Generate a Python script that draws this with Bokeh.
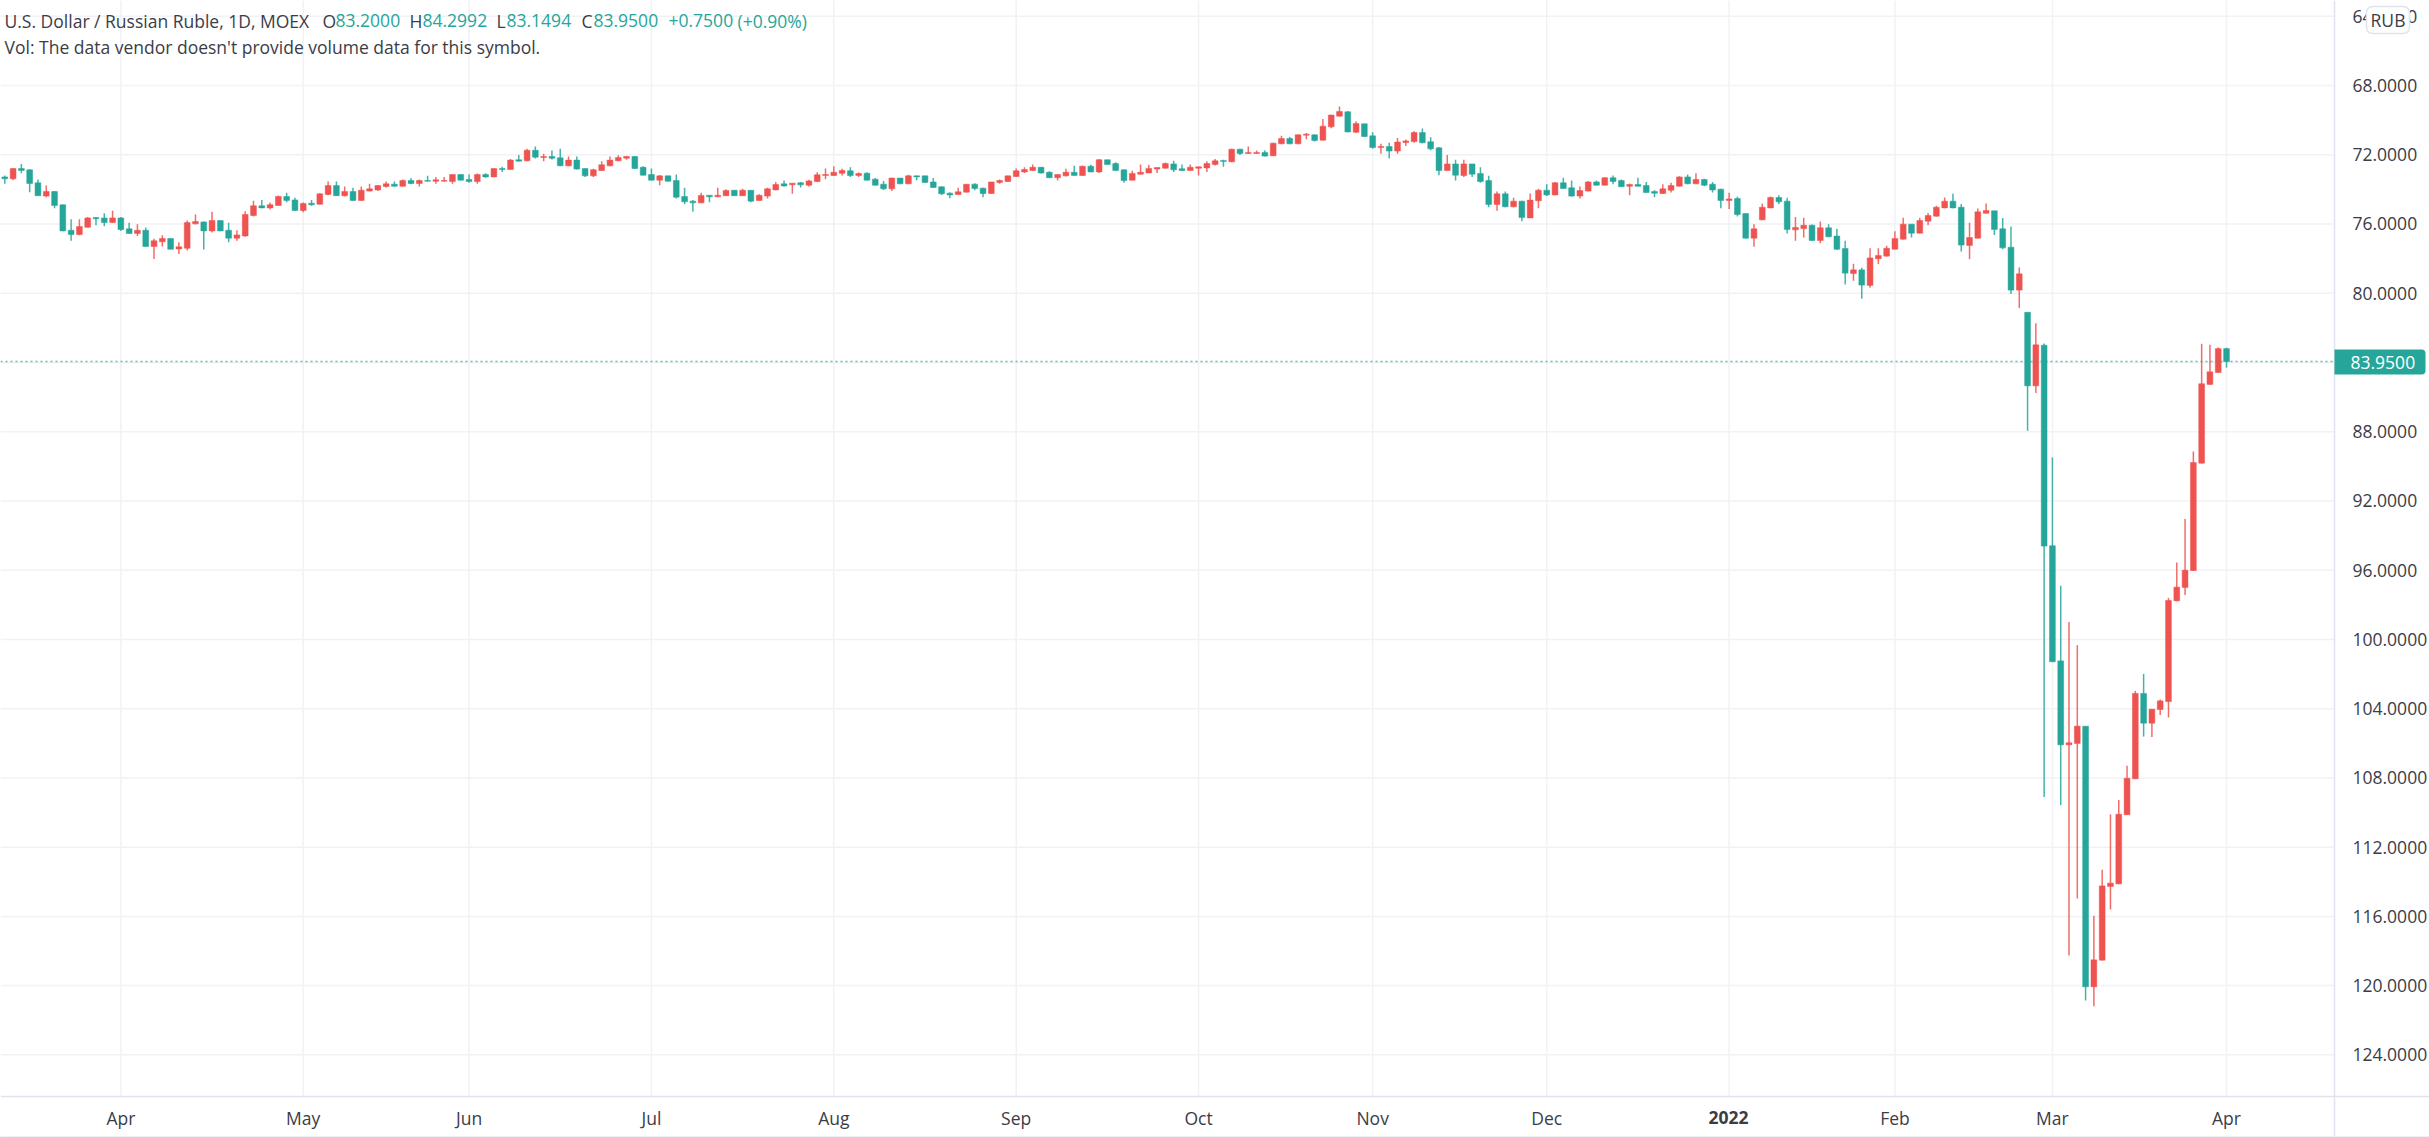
from bokeh.embed import file_html
from bokeh.models import BoxAnnotation, ColumnDataSource, FixedTicker, Label, NumeralTickFormatter, Range1d
from bokeh.plotting import figure
from bokeh.resources import INLINE

opens = [
 73.28,73.39,72.80,72.87,73.62,74.39,74.12,74.89,76.36,76.61,
 76.19,75.63,75.65,75.92,75.65,76.28,76.55,76.36,77.30,77.03,
 76.84,77.44,77.40,75.99,75.88,76.40,75.80,76.36,76.82,76.69,
 75.51,74.95,75.07,74.93,74.41,74.61,75.22,74.80,74.86,74.30,
 73.78,74.37,74.12,74.64,74.10,74.03,73.84,73.70,73.82,73.49,
 73.66,73.49,73.53,73.53,73.55,73.14,73.43,73.55,73.14,73.28,
 72.80,72.85,72.29,72.35,71.74,72.16,72.10,72.18,72.64,72.31,
 72.80,73.22,72.91,72.64,72.35,72.20,72.10,72.72,73.14,73.47,
 73.22,73.49,74.41,74.68,74.78,74.34,74.43,74.37,74.05,74.37,
 74.05,74.64,74.39,74.03,73.68,73.74,73.62,73.76,73.55,73.20,
 73.20,73.07,72.93,73.20,73.07,73.41,73.70,73.97,73.35,73.68,
 73.22,73.22,73.57,73.85,74.22,74.30,74.16,73.70,73.93,74.24,
 73.60,73.55,73.26,72.99,72.91,72.72,73.01,73.33,73.22,73.01,
 73.20,72.66,72.99,72.29,72.51,72.87,73.47,73.12,73.05,72.83,
 72.78,72.53,72.81,72.91,72.78,72.76,72.56,72.33,72.41,71.68,
 71.93,71.93,71.87,72.06,71.37,71.06,71.37,70.87,70.85,71.16,
 70.39,69.77,69.52,70.70,70.21,70.91,71.58,71.52,71.79,71.29,
 71.24,70.72,71.25,71.60,72.91,72.53,73.20,72.53,73.08,73.49,
 74.87,74.26,75.01,74.68,75.65,74.66,74.05,74.32,73.62,73.91,
 74.39,74.10,73.57,73.76,73.33,73.49,73.82,73.72,73.78,74.12,
 74.24,74.05,73.82,73.28,73.68,73.43,73.70,73.99,74.64,74.53,
 75.40,76.82,75.76,75.07,74.47,74.68,76.34,76.26,76.07,76.95,
 76.22,76.70,77.42,78.86,78.65,79.55,78.01,77.86,77.46,76.88,
 76.01,76.53,75.84,75.55,75.07,74.68,75.03,77.24,76.82,75.38,
 75.24,76.28,77.34,79.82,81.10,85.35,83.00,94.59,101.24,106.09,
 106.01,105.01,120.07,118.53,114.27,114.12,110.13,108.05,103.12,104.84,
 104.05,103.59,97.77,97.00,96.02,89.82,85.27,84.58,83.20,
]
closes = [
 73.39,72.80,72.91,73.66,74.37,74.12,74.93,76.40,76.61,76.15,
 75.65,75.70,75.92,75.65,76.32,76.55,76.36,77.30,76.97,76.84,
 77.46,77.32,75.92,75.86,76.40,75.80,76.40,76.82,76.63,75.45,
 74.95,75.07,74.89,74.41,74.64,75.22,74.82,74.89,74.26,73.78,
 74.37,74.12,74.64,74.05,73.97,73.78,73.68,73.82,73.49,73.66,
 73.49,73.53,73.45,73.49,73.14,73.47,73.55,73.14,73.28,72.80,
 72.85,72.31,72.37,71.74,72.14,72.10,72.20,72.64,72.31,72.83,
 73.22,72.87,72.58,72.31,72.16,72.10,72.80,73.18,73.47,73.22,
 73.53,74.45,74.72,74.78,74.35,74.43,74.34,74.07,74.37,74.05,
 74.68,74.34,73.97,73.72,73.80,73.64,73.74,73.51,73.16,73.14,
 73.01,72.91,73.20,73.08,73.47,73.76,73.97,73.35,73.68,73.22,
 73.28,73.60,73.89,74.26,74.32,74.14,73.70,73.95,74.24,73.57,
 73.49,73.22,72.93,72.85,72.72,73.06,73.33,73.14,73.01,73.20,
 72.66,72.99,72.29,72.56,72.91,73.49,73.08,73.01,72.79,72.74,
 72.51,72.87,72.91,72.72,72.70,72.51,72.35,72.39,71.68,71.93,
 71.87,71.87,72.08,71.33,71.06,71.37,70.85,70.81,71.18,70.35,
 69.71,69.50,70.68,70.20,70.95,71.58,71.52,71.79,71.27,71.20,
 70.72,71.31,71.66,72.91,72.53,73.18,72.53,73.12,73.55,74.87,
 74.26,75.01,74.68,75.63,74.62,74.05,74.32,73.62,73.95,74.39,
 74.07,73.57,73.76,73.33,73.55,73.85,73.72,73.82,74.18,74.22,
 73.97,73.78,73.28,73.68,73.43,73.76,74.03,74.64,74.55,75.45,
 76.82,76.28,75.03,74.47,74.72,76.32,76.20,76.07,76.95,76.22,
 76.74,77.46,78.84,78.65,79.53,77.96,77.82,77.40,76.84,76.01,
 76.53,75.80,75.51,75.03,74.68,75.07,77.22,76.78,75.30,75.22,
 76.32,77.38,79.82,78.88,85.35,82.98,94.61,101.29,106.09,105.97,
 105.01,120.07,118.51,114.24,114.08,110.10,108.02,103.12,104.84,104.03,
 103.55,97.75,96.98,96.00,89.78,85.23,84.54,83.20,83.95,
]
highs = [
 73.68,73.47,73.07,74.16,74.39,74.45,75.09,76.42,76.97,76.65,
 76.20,76.07,76.13,75.93,76.40,76.57,76.70,77.32,78.03,77.30,
 77.48,77.74,77.53,76.03,77.48,76.49,76.42,77.05,76.97,76.74,
 75.57,75.09,75.16,74.95,74.74,75.24,75.32,74.95,74.87,74.34,
 74.39,74.41,74.66,74.66,74.12,74.10,73.89,73.84,73.84,73.70,
 73.84,73.55,73.68,73.55,73.68,73.49,73.62,73.68,73.33,73.30,
 72.99,72.87,72.39,72.37,72.22,72.37,72.28,72.66,72.66,72.85,
 73.28,73.28,72.93,72.66,72.37,72.29,72.83,73.20,73.49,73.76,
 73.55,74.53,74.86,75.30,74.80,74.74,74.45,74.39,74.39,74.39,
 74.74,74.66,74.53,74.05,73.85,74.26,73.89,73.84,73.57,73.41,
 73.22,73.20,73.28,73.28,73.49,73.78,74.03,74.10,73.70,73.70,
 73.47,73.62,73.91,74.32,74.51,74.32,74.18,74.05,74.45,74.26,
 73.68,73.57,73.28,73.06,72.93,73.08,73.35,73.49,73.26,73.20,
 73.22,73.01,73.06,72.58,72.93,73.62,73.49,73.14,73.06,73.06,
 72.79,72.99,72.93,72.93,73.20,72.99,72.62,72.70,72.43,72.01,
 71.95,71.95,72.10,72.08,71.39,71.39,71.39,71.10,71.24,71.18,
 70.47,69.79,70.70,70.75,70.97,71.66,71.95,72.22,71.95,71.50,
 71.31,71.33,71.74,73.18,72.93,73.49,73.28,73.28,73.62,75.03,
 75.24,75.03,75.03,75.84,75.65,75.09,74.39,74.34,73.97,74.43,
 74.53,74.12,73.78,73.78,73.70,73.87,74.34,73.84,74.20,74.45,
 74.26,74.18,73.84,73.70,73.70,73.82,74.18,75.09,75.14,75.57,
 76.84,77.32,75.78,75.09,74.86,76.55,76.97,76.78,76.97,77.11,
 76.76,77.51,79.50,79.28,80.32,79.69,78.32,77.88,77.47,76.90,
 76.78,76.55,76.07,75.57,75.09,75.09,77.59,78.03,76.84,75.40,
 76.63,77.46,80.05,80.86,87.95,85.77,109.11,101.31,109.57,118.26,
 114.97,120.86,121.19,118.55,115.60,114.14,110.15,108.07,105.61,105.63,
 104.36,104.51,97.79,97.44,96.04,89.84,85.29,84.60,84.2992,
]
lows = [
 73.20,72.78,72.53,72.85,73.43,73.78,74.10,74.87,75.72,75.72,
 75.59,75.59,75.38,75.24,75.59,75.93,76.01,76.20,76.86,76.65,
 76.84,77.05,75.80,75.45,75.86,75.30,75.80,75.93,76.36,75.26,
 74.66,74.61,74.76,74.35,74.20,74.49,74.76,74.61,74.22,73.55,
 73.55,73.84,73.91,73.84,73.68,73.76,73.55,73.55,73.43,73.35,
 73.43,73.22,73.28,73.28,73.14,73.14,73.14,73.08,73.07,72.80,
 72.70,72.24,72.01,71.66,71.52,71.95,71.76,71.66,72.10,72.10,
 72.80,72.81,72.37,72.10,72.03,72.08,72.08,72.66,72.80,73.18,
 73.22,73.14,73.91,74.61,74.20,74.34,73.91,73.99,74.05,73.97,
 74.05,74.28,73.91,73.57,73.49,73.64,73.57,73.45,73.01,72.80,
 72.66,72.81,72.72,73.03,73.01,73.35,73.51,73.33,73.35,73.16,
 73.22,73.22,73.35,73.83,74.16,73.91,73.70,73.64,73.91,73.57,
 73.43,73.22,72.79,72.72,72.56,72.72,72.95,73.14,72.81,72.64,
 72.64,72.58,72.24,72.29,72.43,72.85,72.93,72.56,72.58,72.74,
 72.45,72.35,72.56,72.56,72.68,72.37,72.24,72.29,71.66,71.66,
 71.52,71.75,71.74,71.31,70.91,70.98,70.83,70.75,70.83,69.93,
 69.69,69.21,69.48,70.06,70.21,70.70,71.37,71.31,71.04,71.12,
 70.64,70.48,70.99,71.56,72.01,72.29,72.29,72.53,72.72,73.22,
 74.12,74.12,74.49,74.66,74.24,73.97,73.70,73.57,73.33,73.49,
 73.84,73.51,73.49,73.28,73.20,73.43,73.66,73.33,73.57,74.05,
 73.70,73.62,73.24,73.14,73.07,73.39,73.57,73.97,74.20,74.41,
 75.40,76.01,74.82,74.41,74.34,74.49,75.59,75.64,76.03,75.86,
 76.01,76.28,76.97,78.30,78.53,77.40,77.40,77.26,76.42,75.64,
 76.01,75.64,75.36,74.95,74.47,74.26,74.84,75.93,75.11,74.82,
 75.24,75.66,76.15,78.51,81.10,81.73,82.90,89.49,96.90,99.00,
 100.33,105.01,115.97,113.31,110.10,109.27,107.30,102.97,101.99,104.03,
 103.47,97.60,95.56,93.05,89.14,82.92,82.98,83.14,83.1494,
]
month_names = ["Apr","May","Jun","Jul","Aug","Sep","Oct","Nov","Dec","2022","Feb","Mar","Apr"]
month_bars = [14,36,56,78,100,122,144,165,186,208,228,247,268]
price_ticks = list(range(64,125,4))
last_price = 83.95
GREEN, RED = "#26a69a", "#ef5350"
FONT = "Open Sans"
FS = "17.5px"
TXT = "#3a3d48"
GRID = "#f1f2f5"
AXIS = "#e0e3eb"
W, H = 2429, 1137
PANE_W, PANE_H = 2334, 1096

def xd(px): return (px-4.3)/8.29
def yd(py): return 68+(py-85)/17.31

idx = list(range(len(opens)))
colors = [RED if c < o else GREEN for o,c in zip(opens,closes)]
src = ColumnDataSource(dict(i=idx,o=opens,h=highs,l=lows,c=closes,col=colors))

p = figure(width=W,height=H,frame_width=W,frame_height=H,
           x_range=Range1d(xd(0),xd(W)),y_range=Range1d(yd(H),yd(0)),
           y_axis_location="right",output_backend="svg",toolbar_location=None,
           min_border_left=0,min_border_top=0,min_border_right=0,min_border_bottom=0,
           outline_line_color=None)
p.grid.visible = False

p.xaxis.ticker = FixedTicker(ticks=month_bars)
p.xaxis.major_label_overrides = {b:(n if n!="2022" else "") for b,n in zip(month_bars,month_names)}
p.yaxis.ticker = FixedTicker(ticks=price_ticks)
p.yaxis.formatter = NumeralTickFormatter(format="0.0000")
p.xaxis.fixed_location = yd(PANE_H)
p.yaxis.fixed_location = xd(PANE_W)
for ax in (p.xaxis[0],p.yaxis[0]):
    ax.major_tick_line_color=None; ax.minor_tick_line_color=None
    ax.axis_line_color=AXIS; ax.axis_line_width=1.5
    ax.major_label_text_font=FONT; ax.major_label_text_font_size=FS
    ax.major_label_text_color=TXT
p.yaxis.major_label_standoff=12
p.xaxis.major_label_standoff=3

# grid rules limited to the price pane
p.segment(x0=month_bars,y0=[yd(0)]*len(month_bars),x1=month_bars,y1=[yd(PANE_H)]*len(month_bars),
          line_color=GRID,line_width=1.5,level="underlay")
p.segment(x0=[xd(0)]*len(price_ticks),y0=price_ticks,x1=[xd(PANE_W)]*len(price_ticks),y1=price_ticks,
          line_color=GRID,line_width=1.5,level="underlay")

p.segment("i","h","i","l",source=src,color="col",line_width=1.5,line_alpha=0.85)
p.vbar(x="i",top="o",bottom="c",width=5.8/8.29,source=src,fill_color="col",line_color="col",line_width=0.5)

# dotted last-price line
p.line(x=[xd(0),xd(PANE_W)],y=[last_price,last_price],line_color=GREEN,line_dash=[2,3],line_width=1.5,line_alpha=0.7)

def lab(px,py,t,color=TXT,**kw):
    kw.setdefault("text_font",FONT); kw.setdefault("text_font_size",FS)
    kw.setdefault("text_baseline","middle")
    p.add_layout(Label(x=px,y=H-py,x_units="screen",y_units="screen",text=t,text_color=color,**kw))

def box(l,r,t,b,fill,line=None,radius=0):
    p.add_layout(BoxAnnotation(left=l,right=r,top=H-t,bottom=H-b,left_units="screen",right_units="screen",
                               top_units="screen",bottom_units="screen",fill_color=fill,fill_alpha=1,
                               line_color=line,line_width=1.5,line_alpha=1,border_radius=radius,level="annotation"))

hy1,hy2 = 20,46
lab(4,hy1,"U.S. Dollar / Russian Ruble, 1D, MOEX")
for x,t,c in [(322,"O",TXT),(335,"83.2000",GREEN),(409,"H",TXT),(422,"84.2992",GREEN),
              (496,"L",TXT),(506,"83.1494",GREEN),(581,"C",TXT),(593,"83.9500",GREEN),
              (668,"+0.7500",GREEN),(737,"(+0.90%)",GREEN)]:
    lab(x,hy1,t,c)
lab(4,hy2,"Vol: The data vendor doesn't provide volume data for this symbol.")
lab(1728,1117,"2022",TXT,text_align="center",text_font_style="bold")
box(2334,2425,349,374,GREEN,radius=(0,4,4,0))
lab(2350,362,"83.9500","#ffffff")
box(2366,2409,6,33,"#ffffff",line=AXIS,radius=6)
lab(2387.5,19.5,"RUB",TXT,text_align="center")
box(0,W,1135.5,1137,"#eef0f4")

open("out.html","w").write(file_html(p,INLINE))
